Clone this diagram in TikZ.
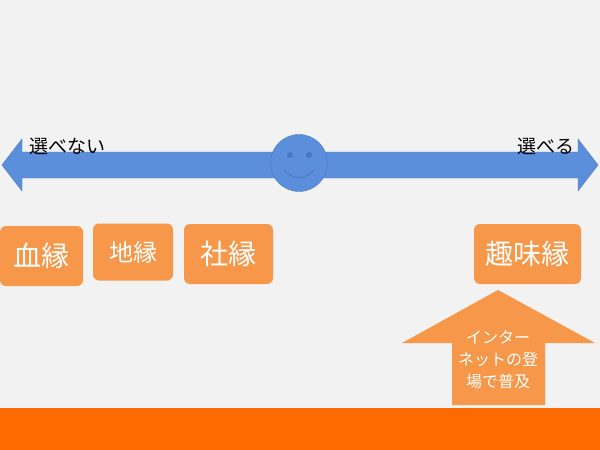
\documentclass[tikz,border=0pt]{standalone}
\usepackage{fontspec}
\newfontfamily\cjk{Noto Sans CJK JP}
\definecolor{bg}{HTML}{F2F2F2}
\definecolor{blu}{HTML}{5B8FDB}
\definecolor{blud}{HTML}{4A78C0}
\definecolor{org}{HTML}{F7974A}
\definecolor{bar}{HTML}{FF6A00}
\tikzset{lbl/.style={box,font=\cjk\fontsize{28}{30}\selectfont,text=white},
box/.style={fill=org,rounded corners=6pt,inner sep=0pt}}
\begin{document}
\begin{tikzpicture}[x=1pt,y=-1pt]
\fill[bg] (0,0) rectangle (600,450);
\useasboundingbox (0,0) rectangle (600,450);
\fill[bar] (0,408) rectangle (600,450);
\draw[blud,fill=blu] (2,165) -- (22,139) -- (22,152) -- (578,152) -- (578,139) -- (598,165) -- (578,191) -- (578,178) -- (22,178) -- (22,191) -- cycle;
\node[circle,draw=blud,fill=blu,minimum size=57pt,inner sep=0pt] (face) at (299,163) {};
\fill[blud] (290,155) circle (3);
\fill[blud] (309,155) circle (3);
\draw[blud,line width=0.8pt] (284,170) .. controls (292,180) and (306,180) .. (314,170);
\node[font=\cjk\fontsize{19}{21}\selectfont,anchor=west] (l) at (26,146) {選べない};
\node[font=\cjk\fontsize{19}{21}\selectfont,anchor=east] (r) at (578,146) {選べる};
\node[lbl,minimum width=83pt,minimum height=60pt] (a) at (41.5,256) {血縁};
\node[lbl,minimum width=80pt,minimum height=57pt,font=\cjk\fontsize{24}{26}\selectfont] (b) at (133,252) {地縁};
\node[lbl,minimum width=89pt,minimum height=60pt] (c) at (228.5,254) {社縁};
\node[lbl,minimum width=107pt,minimum height=60pt] (d) at (527.5,254) {趣味縁};
\fill[org] (498,290) -- (595,343) -- (545,343) -- (545,405) -- (452,405) -- (452,343) -- (402,343) -- cycle;
\node[font=\cjk\fontsize{16}{22}\selectfont,text=white,align=center] (t) at (498,360) {インター\\ネットの登\\場で普及};
\end{tikzpicture}
\end{document}
